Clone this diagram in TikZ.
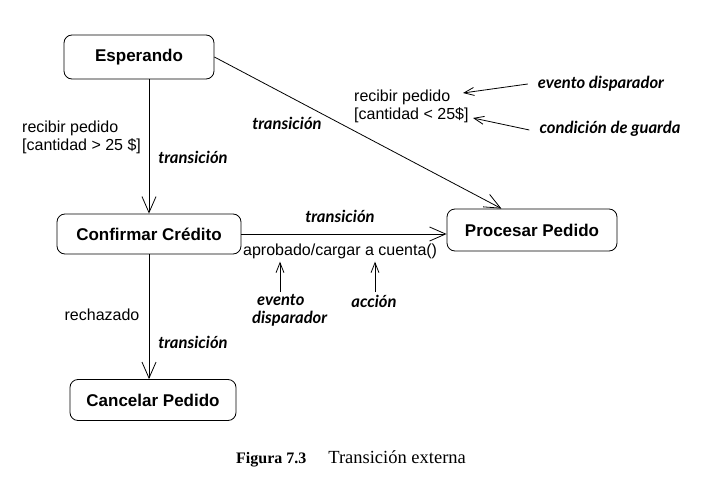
\documentclass[tikz,border=0pt]{standalone}
\usepackage{fontspec}
\setmainfont{Liberation Sans}
\newfontfamily\notefont{Lato}
\newfontfamily\capfont{Liberation Serif}
\usetikzlibrary{arrows.meta}

\tikzset{
  estado/.style={draw, line width=0.8pt, rounded corners=8pt, inner sep=0pt,
    font=\bfseries\fontsize{17}{20}\selectfont},
  trans/.style={draw, line width=0.8pt, -{Straight Barb[length=16pt,width=14pt,line width=0.8pt]}},
  nota/.style={draw, line width=0.8pt, -{Straight Barb[length=10pt,width=8pt,line width=0.8pt]}},
  etiq/.style={inner sep=0pt, align=left, font=\fontsize{16}{18}\selectfont},
  tipo/.style={inner sep=0pt, align=left, font=\notefont\bfseries\itshape\fontsize{16.6}{18}\selectfont}
}

\begin{document}
\begin{tikzpicture}[x=1pt,y=-1pt]
  \useasboundingbox (0,0) rectangle (712,487);

  % estados
  \node[estado, minimum width=150pt, minimum height=44pt] (esp) at (139,57) {Esperando};
  \node[estado, minimum width=184pt, minimum height=40pt] (conf) at (149,234) {Confirmar Crédito};
  \node[estado, minimum width=166pt, minimum height=41pt] (canc) at (153,400) {Cancelar Pedido};
  \node[estado, minimum width=170pt, minimum height=42pt] (proc) at (532,230) {Procesar Pedido};

  % transiciones
  \draw[trans] (conf.north |- esp.south) -- (conf.north);
  \draw[trans] (conf.south) -- (conf.south |- canc.north);
  \draw[trans] (esp.east) -- (proc.145);
  \draw[trans] (conf.east) -- (conf.east -| proc.west);

  % etiquetas
  \node[etiq, anchor=west] (recA) at (22,137) {recibir pedido\\{}[cantidad > 25 \$]};
  \node[etiq, anchor=west] (recB) at (354,106) {recibir pedido\\{}[cantidad < 25\$]};
  \node[etiq, anchor=west] (aprob) at (243,251) {aprobado/cargar a cuenta()};
  \node[etiq] (rech) at (102,315) {rechazado};

  \node[tipo] (tA) at (193,157) {transición};
  \node[tipo] (tB) at (287,123) {transición};
  \node[tipo] (tC) at (340,216) {transición};
  \node[tipo] (tD) at (193,342) {transición};

  \node[tipo] (evA) at (601,84) {evento disparador};
  \node[tipo] (guard) at (610,129) {condición de guarda};
  \node[tipo, anchor=west] (evB) at (252,310) {\hspace*{5pt}evento\\disparador};
  \node[tipo] (acc) at (374,301) {acción};

  % notas
  \coordinate (pEv) at (463,93);
  \coordinate (pGuard) at (473,118);
  \coordinate (qEv) at (280,292);
  \coordinate (qAcc) at (375,292);
  \draw[nota] (evA.west) ++(-10,0) -- (pEv);
  \draw[nota] (guard.west) ++(-10,1) -- (pGuard);
  \draw[nota] (qEv) -- ([yshift=-3pt]qEv |- aprob.south);
  \draw[nota] (qAcc) -- ([yshift=-3pt]qAcc |- aprob.south);

  % pie
  \node[inner sep=0pt, font=\capfont\fontsize{18.5}{20}\selectfont] (pie) at (351,459)
    {{\bfseries\fontsize{16}{20}\selectfont Figura 7.3}\hspace{22pt}Transición externa};
\end{tikzpicture}
\end{document}
